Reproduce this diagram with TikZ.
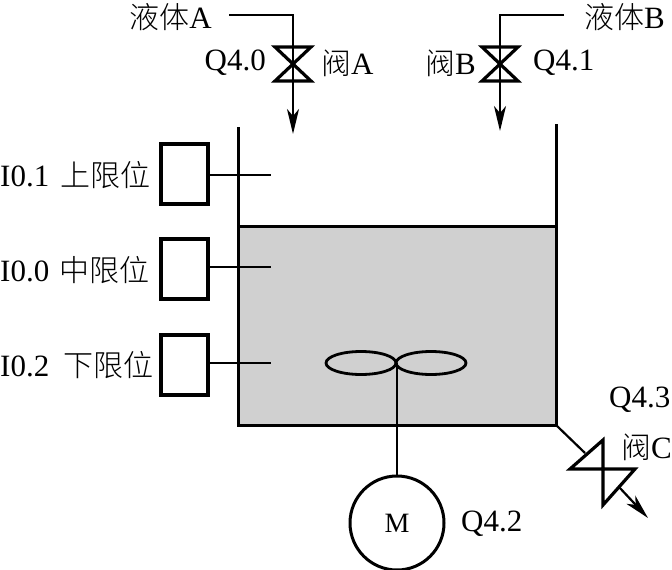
\documentclass[tikz,border=0pt]{standalone}
\usepackage{fontspec}
\setmainfont{Liberation Serif}
\newfontfamily\cjk{Noto Sans CJK SC Light}
\usetikzlibrary{positioning,arrows.meta,shapes.geometric}
\definecolor{liquidgray}{RGB}{208,208,208}
\tikzset{
  wall/.style={line width=3pt},
  pipe/.style={line width=2.2pt},
  flow/.style={line width=2.2pt,-{Stealth[length=25pt,width=12pt,inset=7pt]}},
  probe/.style={line width=1.8pt},
  sensorbox/.style={draw,line width=3.2pt,minimum width=47pt,minimum height=60pt,inner sep=0pt},
  blade/.style={ellipse,draw,line width=2.8pt,minimum width=70pt,minimum height=23pt,inner sep=0pt},
  motor/.style={circle,draw,line width=3pt,minimum size=94pt,inner sep=0pt,font=\fontsize{28}{30}\selectfont},
  lab/.style={inner sep=0pt,font=\fontsize{31}{33}\selectfont},
  valve/.pic={\draw[line width=3.2pt,line join=miter] (-18,-17) -- (18,-17) -- (-18,17) -- (18,17) -- cycle;}
}
\newcommand{\zh}[1]{{\cjk\fontsize{30}{32}\selectfont #1}}
\begin{document}
\begin{tikzpicture}[x=1pt,y=-1pt]
  \useasboundingbox (0,0) rectangle (672,570);
  % tank and liquid
  \fill[liquidgray] (238,226) rectangle (556,425);
  \draw[wall] (238,127) -- (238,425) -- (556,425) -- (556,124);
  \draw[wall] (238,226) -- (556,226);
  % inlet valves
  \coordinate (ina) at (229,15); \coordinate (inb) at (564,15);
  \coordinate (va) at (293,64); \coordinate (vb) at (500,64);
  \coordinate (tipa) at (293,134); \coordinate (tipb) at (500,131);
  \draw[pipe] (ina) -| ([yshift=-17pt]va);
  \draw[pipe] (inb) -| ([yshift=-17pt]vb);
  \pic at (va) {valve}; \pic at (vb) {valve};
  \draw[flow] ([yshift=17pt]va) -- (tipa);
  \draw[flow] ([yshift=17pt]vb) -- (tipb);
  \node[lab,left] (lia) at (212,17) {\zh{液体}A};
  \node[lab,right] (lib) at (584,17) {\zh{液体}B};
  \node[lab,left] (qa) at (266,63) {Q4.0}; \node[lab,right] (fa) at (321,63) {\zh{阀}A};
  \node[lab,left] (fb) at (476,63) {\zh{阀}B}; \node[lab,right] (qb) at (533,63) {Q4.1};
  % level sensors
  \node[sensorbox] (s1) at (184.5,174) {}; \coordinate (p1) at (271,175);
  \node[sensorbox] (s0) at (184.5,269) {}; \coordinate (p0) at (271,267);
  \node[sensorbox] (s2) at (184.5,365) {}; \coordinate (p2) at (271,363);
  \draw[probe] (s1.east |- p1) -- (p1);
  \draw[probe] (s0.east |- p0) -- (p0);
  \draw[probe] (s2.east |- p2) -- (p2);
  \node[lab,right] (l1) at (0,175) {I0.1\hspace{11pt}\zh{上限位}};
  \node[lab,right] (l0) at (0,270) {I0.0\hspace{10pt}\zh{中限位}};
  \node[lab,right] (l2) at (0,365) {I0.2\hspace{14pt}\zh{下限位}};
  % stirrer
  \node[blade] (bl) at (361,363) {}; \node[blade] (br) at (431,363) {};
  \node[motor] (mot) at (397,523) {M};
  \coordinate (hub) at (397,363);
  \draw[probe] (hub) -- (mot);
  \node[lab,right] (qm) at (461,524) {Q4.2};
  % drain valve
  \coordinate (dr) at (556,425); \coordinate (vc1) at (585,453); \coordinate (vc2) at (619,487);
  \coordinate (tipc) at (648,518);
  \draw[pipe] (dr) -- (vc1);
  \draw[line width=3.2pt,line join=miter] (603,440) -- (570,469) -- (635,469) -- (603,505) -- cycle;
  \draw[flow] (vc2) -- (tipc);
  \node[lab,right] (qc) at (609,400) {Q4.3};
  \node[lab,right] (fc) at (621,447) {\zh{阀}C};
\end{tikzpicture}
\end{document}
